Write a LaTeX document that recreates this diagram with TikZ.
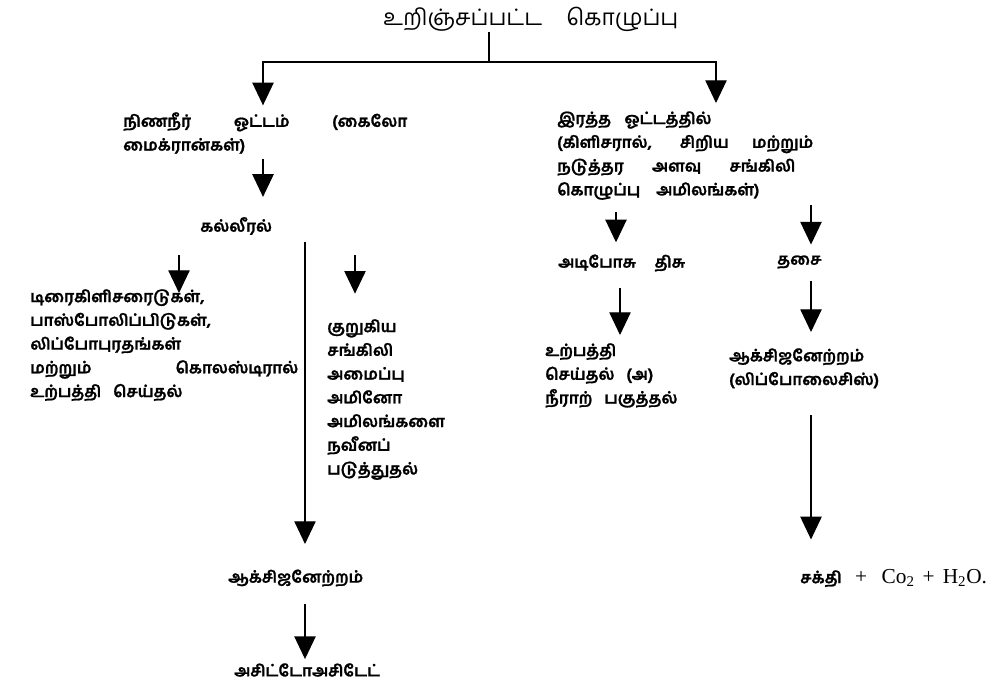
\documentclass[tikz,border=0pt]{standalone}
\usepackage{fontspec}
\setmainfont{Liberation Serif}
\newfontfamily\tamilfont[Script=Tamil,BoldFeatures={FakeBold=1.2}]{Hind Madurai}
\usetikzlibrary{arrows.meta}
\newcommand{\jline}[2]{\makebox[\dimexpr #1pt*3/4\relax][s]{#2}}
\tikzset{
  ln/.style={line width=0.9pt},
  arr/.style={ln,-{Triangle[width=16pt,length=17pt]}},
  txt/.style={font=\tamilfont\bfseries\fontsize{12}{17.8}\selectfont,align=left,inner sep=0pt,anchor=north west},
  head/.style={font=\tamilfont\fontsize{17}{20}\selectfont,inner sep=0pt,anchor=west}
}
\begin{document}
\begin{tikzpicture}[x=0.75pt,y=-0.75pt]
\useasboundingbox[fill=white] (0,0) rectangle (1003,685);
% texts
\node[head] (title) at (383,19) {உறிஞ்சப்பட்ட\hspace{18pt}கொழுப்பு};
\node[txt] (lymph) at (123,112) {\jline{284}{நிணநீர் ஓட்டம் (கைலோ}\\மைக்ரான்கள்)};
\node[txt,anchor=west] (liver) at (200,226) {கல்லீரல்};
\node[txt] (synth) at (30,289) {டிரைகிளிசரைடுகள்,\\பாஸ்போலிப்பிடுகள்,\\லிப்போபுரதங்கள்\\\jline{268}{மற்றும் கொலஸ்டிரால்}\\உற்பத்தி\hspace{9pt}செய்தல்};
\node[txt] (chain) at (327,319) {குறுகிய\\சங்கிலி\\அமைப்பு\\அமினோ\\அமிலங்களை\\நவீனப்\\படுத்துதல்};
\node[txt,anchor=west] (oxl) at (228,578) {ஆக்சிஜனேற்றம்};
\node[txt,anchor=west] (aceto) at (234,670) {அசிட்டோஅசிடேட்};
\node[txt] (blood) at (557,111) {இரத்த\hspace{10pt}ஓட்டத்தில்\\\jline{256}{(கிளிசரால், சிறிய மற்றும்}\\\jline{238}{நடுத்தர அளவு சங்கிலி}\\கொழுப்பு\hspace{12pt}அமிலங்கள்)};
\node[txt,anchor=west] (adipose) at (558,263) {அடிபோசு\hspace{14pt}திசு};
\node[txt,anchor=west] (muscle) at (777,262) {தசை};
\node[txt] (prod) at (545,343) {உற்பத்தி\\செய்தல்\hspace{9pt}(அ)\\நீராற்\hspace{9pt}பகுத்தல்};
\node[txt] (oxr) at (729,348) {ஆக்சிஜனேற்றம்\\(லிப்போலைசிஸ்)};
\node[txt,anchor=west] (energy) at (800,578) {சக்தி\hspace{10pt}{\normalfont\mdseries\fontsize{16}{18}\selectfont +\hspace{11pt}Co\textsubscript{2}\hspace{6pt}+\hspace{6pt}H\textsubscript{2}O.}};
% arrow columns
\foreach \n/\x in {lym/263,syn/179,main/305,chn/355,bld/716,adi/616,pro/620,mus/811}
  \coordinate (\n x) at (\x,0);
\coordinate (split) at (489,62);
% connectors
\draw[ln] (title.south -| split) -- (split);
\draw[arr,shorten >=5pt] (split) -| (lymph.north -| lymx);
\draw[arr,shorten >=6pt] (split) -| (blood.north -| bldx);
\draw[arr,shorten <=4pt,shorten >=15pt] (lymph.south -| lymx) -- (liver.north -| lymx);
\draw[arr,shorten <=15pt,shorten >=-3pt] (liver.south -| synx) -- (synth.north -| synx);
\draw[arr,shorten <=15pt,shorten >=19pt] (liver.south -| chnx) -- (chain.north -| chnx);
\draw[arr,shorten <=5pt,shorten >=19pt] (liver.south -| mainx) -- (oxl.north -| mainx);
\draw[arr,shorten <=13pt,shorten >=3pt] (oxl.south -| mainx) -- (aceto.north -| mainx);
\draw[arr,shorten <=9pt,shorten >=9pt] (blood.south -| adix) -- (adipose.north -| adix);
\draw[arr,shorten <=4pt,shorten >=8pt] (blood.south -| musx) -- (muscle.north -| musx);
\draw[arr,shorten <=12pt,shorten >=6pt] (adipose.south -| prox) -- (prod.north -| prox);
\draw[arr,shorten <=9pt,shorten >=12pt] (muscle.south -| musx) -- (oxr.north -| musx);
\draw[arr,shorten <=20pt,shorten >=22pt] (oxr.south -| musx) -- (energy.north -| musx);
\end{tikzpicture}
\end{document}
